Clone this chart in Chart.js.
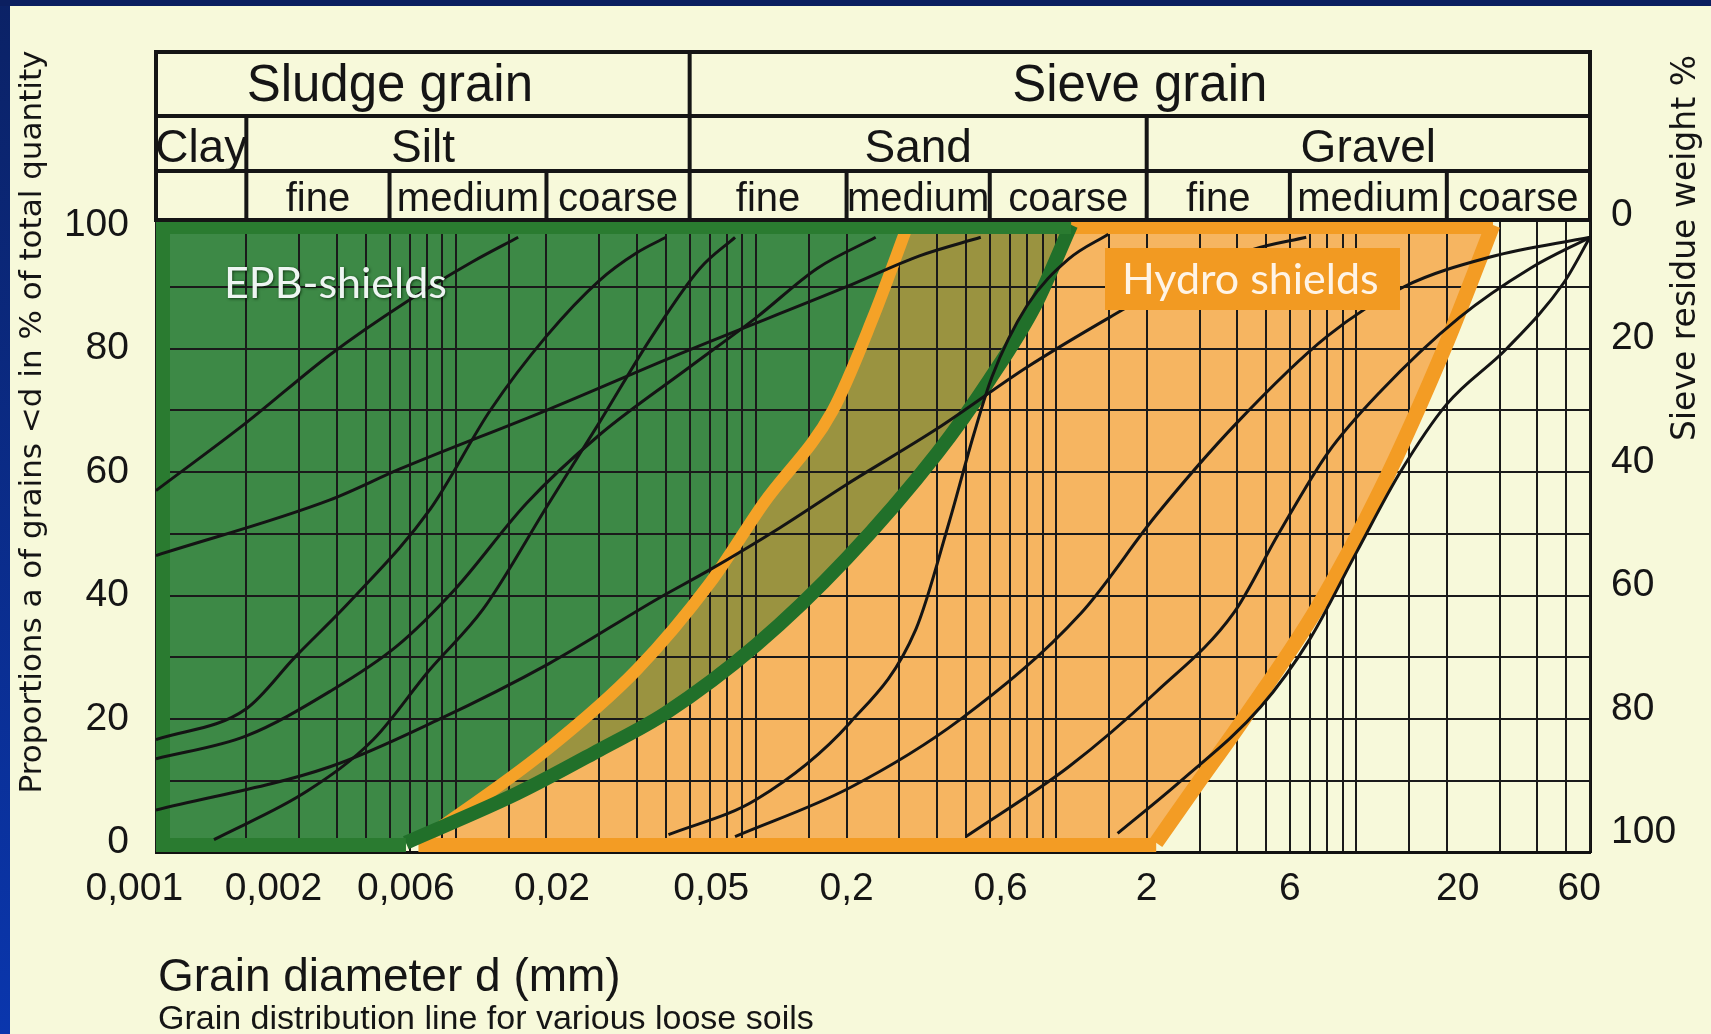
<!DOCTYPE html>
<html>
<head>
<meta charset="utf-8">
<title>Grain distribution</title>
<script src="https://cdn.jsdelivr.net/npm/chart.js@4.4.1/dist/chart.umd.min.js"></script>
<style>
  body { margin: 0; background: #f7f9da; }
  canvas { display: block; }
</style>
</head>
<body>
<canvas id="myChart" width="1711" height="1034"></canvas>
<script>
// x = grain diameter d (mm, log), y = passing %
var tickValues = [0.001, 0.002, 0.006, 0.02, 0.06, 0.2, 0.6, 2, 6, 20, 60];
var tickLabels = ['0,001', '0,002', '0,006', '0,02', '0,05', '0,2', '0,6', '2', '6', '20', '60'];
var percentTicks = [0, 10, 20, 30, 40, 50, 60, 70, 80, 90, 100];

// header table
var groupNames = ['Sludge grain', 'Sieve grain'];
var groupEdges = [0.001, 0.06, 60];
var soilNames = ['Clay', 'Silt', 'Sand', 'Gravel'];
var soilEdges = [0.001, 0.002, 0.06, 2, 60];
var subNames = ['', 'fine', 'medium', 'coarse', 'fine', 'medium', 'coarse', 'fine', 'medium', 'coarse'];
var subEdges = [0.001, 0.002, 0.006, 0.02, 0.06, 0.2, 0.6, 2, 6, 20, 60];

// application limits [d, %]
var epbLimit = [[0.0068, 0], [0.016, 8], [0.03, 15], [0.05, 21], [0.1, 32], [0.2, 46], [0.4, 63], [0.6, 75], [0.85, 87], [1.12, 100]];
var hydroLeft = [[0.0075, 0], [0.02, 15], [0.04, 28], [0.07, 42], [0.106, 55], [0.18, 70], [0.245, 85], [0.32, 100]];
var hydroRight = [[2.15, 0], [2.9, 9], [4.2, 20], [7.4, 38], [12, 57], [20, 81], [28.5, 100]];

// grain distribution lines [d, %]
var soilA = [[0.001, 57], [0.002, 68], [0.0038, 79], [0.0068, 87.5], [0.0113, 94], [0.0161, 98]];
var soilB = [[0.001, 46.5], [0.0038, 55.5], [0.0065, 60.5], [0.02, 70], [0.058, 79.5], [0.2, 90], [0.35, 95], [0.56, 98]];
var soilC = [[0.001, 16.7], [0.002, 21.7], [0.0029, 30], [0.0045, 39.4], [0.0082, 54], [0.013, 70], [0.02, 82], [0.03, 91], [0.04, 95.5], [0.05, 98]];
var soilD = [[0.001, 13.6], [0.002, 17.3], [0.0038, 24.5], [0.0063, 31.7], [0.0099, 41], [0.0172, 55], [0.03, 66], [0.06, 77], [0.1, 85], [0.16, 93], [0.25, 98]];
var soilE = [[0.001, 5.3], [0.0038, 12.3], [0.0088, 20], [0.0204, 29], [0.047, 39.5], [0.069, 44], [0.12, 51], [0.2, 58], [0.4, 67], [0.8, 77], [1.5, 85], [2.5, 91], [4.5, 96], [6.8, 98]];
var soilF = [[0.00156, 0.5], [0.0032, 8.4], [0.0053, 16.7], [0.0081, 27.8], [0.0123, 37.8], [0.0204, 55], [0.03, 68], [0.045, 82], [0.065, 93], [0.085, 98]];
var soilG = [[0.051, 1.3], [0.1, 7], [0.205, 19.4], [0.34, 34.5], [0.44, 52], [0.53, 66], [0.61, 75.4], [0.8, 87], [1.1, 94.5], [1.49, 98.5]];
var soilH = [[0.085, 1], [0.205, 8.9], [0.48, 20], [1.21, 37.2], [2.15, 53], [4, 68], [8, 82], [14.4, 90], [27.9, 94.8], [60, 98]];
var soilI = [[0.5, 1], [1.1, 12.3], [2.15, 24.4], [3.9, 37.2], [5.5, 50], [8, 63], [12, 73], [22, 85], [38, 93], [60, 98]];
var soilJ = [[1.6, 1.5], [2.6, 10], [4.8, 22], [7, 33], [10, 47], [14, 60], [20, 71], [31.7, 80], [49, 90.6], [60, 98]];
var soilLines = [soilA, soilB, soilC, soilD, soilE, soilF, soilG, soilH, soilI, soilJ];

var xMin = 0.001, xMax = 60, yMin = -1.5, yMax = 100.8;

function xy(arr) { return arr.map(function (p) { return { x: p[0], y: p[1] }; }); }
function firstX(arr) { return arr[0][0]; }
function lastX(arr) { return arr[arr.length - 1][0]; }

var greenArea = [{ x: xMin, y: yMin }, { x: firstX(epbLimit), y: yMin }]
  .concat(xy(epbLimit), [{ x: lastX(epbLimit), y: yMax }, { x: xMin, y: yMax }]);
var orangeArea = [{ x: firstX(hydroLeft), y: yMin }]
  .concat(xy(hydroLeft), [{ x: lastX(hydroLeft), y: yMax }, { x: lastX(hydroRight), y: yMax }],
    xy(hydroRight).reverse(), [{ x: firstX(hydroRight), y: yMin }]);
var bothArea = xy(hydroLeft)
  .concat([{ x: lastX(hydroLeft), y: yMax }, { x: lastX(epbLimit), y: yMax }], xy(epbLimit).reverse());

var datasets = [
  { data: greenArea, showLine: true, fill: 'shape', backgroundColor: '#3d8946', borderWidth: 0, tension: 0, order: 9, clip: 0 },
  { data: orangeArea, showLine: true, fill: 'shape', backgroundColor: '#f6b561', borderWidth: 0, tension: 0, order: 8, clip: 0 },
  { data: bothArea, showLine: true, fill: 'shape', backgroundColor: '#9a9340', borderWidth: 0, tension: 0, order: 7, clip: 0, gridAfter: true },
  // orange frame
  { data: [{ x: firstX(hydroLeft), y: yMin }, { x: firstX(hydroRight), y: yMin }], showLine: true, borderColor: '#f39c24', borderWidth: 28, order: 5, clip: 0 },
  { data: [{ x: lastX(hydroLeft), y: yMax }, { x: lastX(hydroRight), y: yMax }], showLine: true, borderColor: '#f39c24', borderWidth: 28, order: 5, clip: 0 },
  { data: xy(hydroLeft), showLine: true, borderColor: '#f5a227', borderWidth: 12, cubicInterpolationMode: 'monotone', order: 5, clip: 0 },
  { data: xy(hydroRight), showLine: true, borderColor: '#f39c24', borderWidth: 15, cubicInterpolationMode: 'monotone', order: 5, clip: 0 },
  // green frame
  { data: [{ x: firstX(epbLimit), y: yMin }, { x: xMin, y: yMin }, { x: xMin, y: yMax }, { x: lastX(epbLimit), y: yMax }], showLine: true, borderColor: '#2a7b30', borderWidth: 28, borderJoinStyle: 'miter', order: 4, clip: 0 },
  { data: xy(epbLimit), showLine: true, borderColor: '#21702a', borderWidth: 14, cubicInterpolationMode: 'monotone', order: 4, clip: 0 }
];
soilLines.forEach(function (s) {
  datasets.push({ data: xy(s), showLine: true, borderColor: '#141414', borderWidth: 3, cubicInterpolationMode: 'monotone', order: 1, clip: 0 });
});

var paper = {
  id: 'paper',
  beforeDraw: function (chart) {
    var ctx = chart.ctx;
    ctx.save();
    ctx.fillStyle = '#f7f9da';
    ctx.fillRect(0, 0, chart.width, chart.height);
    var g = ctx.createLinearGradient(0, 0, 0, chart.height);
    g.addColorStop(0, '#0b2266');
    g.addColorStop(1, '#0a36ad');
    ctx.fillStyle = g;
    ctx.fillRect(0, 0, 10, chart.height);
    ctx.fillStyle = '#0b1f60';
    ctx.fillRect(0, 0, chart.width, 6);
    ctx.restore();
  }
};

// fills sit under the grid, frames and lines on top of it
var gridOnTop = {
  id: 'gridOnTop',
  afterDatasetDraw: function (chart, args) {
    if (!chart.data.datasets[args.index].gridAfter) return;
    chart.scales.x.drawGrid(chart.chartArea);
    chart.scales.y.drawGrid(chart.chartArea);
  }
};

var header = {
  id: 'header',
  afterDraw: function (chart) {
    var ctx = chart.ctx, xs = chart.scales.x, a = chart.chartArea;
    var rowY = [52, 116, 171, a.top];
    // the scan does not centre these two names in their cells
    var shift = { 'Sludge grain': -33, 'Silt': -45 };
    function px(v) { return xs.getPixelForValue(v); }
    function seg(x1, y1, x2, y2) { ctx.beginPath(); ctx.moveTo(x1, y1); ctx.lineTo(x2, y2); ctx.stroke(); }
    function cells(names, edges, row, base, size) {
      ctx.font = size + 'px "Liberation Sans", Arial, sans-serif';
      for (var i = 0; i < names.length; i++) {
        var cx = (px(edges[i]) + px(edges[i + 1])) / 2 + (shift[names[i]] || 0);
        ctx.fillText(names[i], cx, base);
        if (i > 0) seg(px(edges[i]), rowY[row], px(edges[i]), rowY[row + 1]);
      }
    }
    ctx.save();
    ctx.strokeStyle = '#151515';
    ctx.lineWidth = 4;
    ctx.fillStyle = '#151515';
    ctx.textAlign = 'center';
    ctx.textBaseline = 'alphabetic';
    rowY.forEach(function (y) { seg(a.left - 2, y, a.right + 2, y); });
    seg(a.left, rowY[0], a.left, a.top);
    seg(a.right, rowY[0], a.right, a.top);
    cells(groupNames, groupEdges, 0, 101, 51);
    cells(soilNames, soilEdges, 1, 162, 46);
    cells(subNames, subEdges, 2, 211, 40);
    ctx.restore();
  }
};

var texts = {
  id: 'texts',
  afterDraw: function (chart) {
    var ctx = chart.ctx;
    ctx.save();
    ctx.fillStyle = '#151515';
    ctx.textBaseline = 'middle';
    ctx.textAlign = 'center';
    ctx.font = '31px "DejaVu Sans", sans-serif';
    ctx.save();
    ctx.translate(33, 422);
    ctx.rotate(-Math.PI / 2);
    ctx.fillText('Proportions a of grains <d in % of total quantity', 0, 0);
    ctx.restore();
    ctx.font = '33px "DejaVu Sans", sans-serif';
    ctx.save();
    ctx.translate(1686, 248);
    ctx.rotate(-Math.PI / 2);
    ctx.fillText('Sieve residue weight %', 0, 0);
    ctx.restore();

    ctx.textAlign = 'left';
    ctx.textBaseline = 'alphabetic';
    ctx.font = '46px "Liberation Sans", Arial, sans-serif';
    ctx.fillText('Grain diameter d (mm)', 158, 991);
    ctx.font = '34px "Liberation Sans", Arial, sans-serif';
    ctx.fillText('Grain distribution line for various loose soils', 158, 1029);

    // shield labels
    ctx.fillStyle = '#f29a22';
    ctx.fillRect(1105, 248, 295, 62);
    ctx.font = '43px Lato, "Open Sans", sans-serif';
    ctx.fillStyle = '#fff4e6';
    ctx.fillText('Hydro shields', 1122, 294);
    ctx.shadowColor = 'rgba(0, 30, 0, 0.7)';
    ctx.shadowBlur = 3;
    ctx.shadowOffsetX = 1;
    ctx.shadowOffsetY = 1;
    ctx.fillStyle = '#eef5f2';
    ctx.fillText('EPB-shields', 224, 298);
    ctx.restore();
  }
};

var tickFont = { family: '"Liberation Sans", Arial, sans-serif', size: 39 };
var gridColor = function (c) { return (c.tick && (c.tick.value === 0 || c.tick.value === 100)) ? 'rgba(0,0,0,0)' : '#1a1a1a'; };
// labels on the scan sit a little beside their grid lines: spaces before (+) or after (-)
var labelNudge = [-4, 5, 3, 1, 4, 0, 2, 0, 0, 2, -2];

var ctx = document.getElementById('myChart').getContext('2d');
var myChart = new Chart(ctx, {
  type: 'scatter',
  data: { datasets: datasets },
  options: {
    responsive: false,
    animation: false,
    events: [],
    layout: { padding: { top: 220, left: 0, right: 0, bottom: 0 } },
    elements: { point: { radius: 0 }, line: { borderCapStyle: 'butt' } },
    plugins: { legend: { display: false }, tooltip: { enabled: false } },
    scales: {
      x: {
        type: 'logarithmic', position: 'bottom', min: xMin, max: xMax,
        grid: { color: '#1a1a1a', lineWidth: 2, drawTicks: false },
        border: { color: '#111', width: 3 },
        ticks: {
          autoSkip: false, maxRotation: 0, minRotation: 0, padding: 14, color: '#151515', font: tickFont,
          callback: function (value) {
            for (var i = 0; i < tickValues.length; i++) {
              if (Math.abs(Math.log10(value / tickValues[i])) < 1e-6) {
                var pad = ' '.repeat(Math.abs(labelNudge[i]));
                return labelNudge[i] > 0 ? pad + tickLabels[i] : tickLabels[i] + pad;
              }
            }
            return '';
          }
        },
        afterFit: function (s) { s.height = 182; }
      },
      y: {
        position: 'left', min: yMin, max: yMax,
        afterBuildTicks: function (s) { s.ticks = percentTicks.map(function (v) { return { value: v }; }); },
        grid: { color: gridColor, lineWidth: 2, drawTicks: false },
        border: { color: '#111', width: 3 },
        ticks: {
          autoSkip: false, padding: 27, color: '#151515', font: tickFont,
          callback: function (v) { return v % 20 === 0 ? String(v) : ''; }
        },
        afterFit: function (s) { s.width = 156; }
      },
      y2: {
        position: 'right', reverse: true, min: 100 - yMax, max: 100 - yMin,
        afterBuildTicks: function (s) { s.ticks = percentTicks.map(function (v) { return { value: v }; }); },
        grid: { display: false, drawTicks: false },
        border: { color: '#111', width: 3 },
        ticks: {
          autoSkip: false, padding: 21, labelOffset: -10, color: '#151515', font: tickFont,
          callback: function (v) { return v % 20 === 0 ? String(v) : ''; }
        },
        afterFit: function (s) { s.width = 121; }
      }
    }
  },
  plugins: [paper, gridOnTop, header, texts]
});
</script>
</body>
</html>
